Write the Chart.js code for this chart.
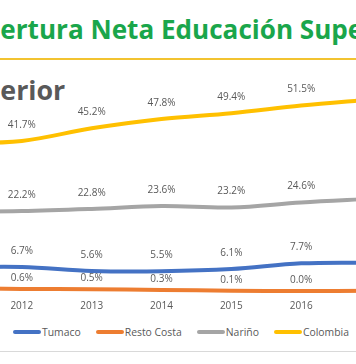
<!DOCTYPE html>
<html><head><meta charset="utf-8">
<script src="https://cdn.jsdelivr.net/npm/chart.js@4"></script>
<style>
html,body{margin:0;padding:0;background:#fff;}
body{width:356px;height:364px;overflow:hidden;position:relative;font-family:"Open Sans",sans-serif;}
#title{position:absolute;top:14px;left:0;white-space:nowrap;font-weight:bold;color:#1aa64b;font-size:26.1px;line-height:30px;}
#rule{position:absolute;left:0;width:356px;top:58px;height:2px;background:#f2c330;}
#sub{position:absolute;top:73px;left:0;white-space:nowrap;font-weight:bold;color:#595959;font-size:26.8px;line-height:34px;}
#wrap{position:absolute;left:-80px;top:60px;width:480px;height:255px;}
#legend{position:absolute;left:13px;top:325px;display:flex;align-items:center;font-size:10.4px;line-height:14px;color:#595959;white-space:nowrap;}
#legend .it{display:flex;align-items:center;margin-right:15px;}
#legend .ln{display:inline-block;width:28px;height:4px;border-radius:2px;margin-right:1px;}
#sep{position:absolute;left:0;top:351px;width:356px;height:1px;background:#d9d9d9;}
</style>
</head><body>
<div id="title"><span id="tpre">Cob</span>ertura Neta Educación Superior</div>
<div id="rule"></div>
<div id="sub"><span id="spre">Sup</span>erior</div>
<div id="wrap"><canvas id="c"></canvas></div>
<div id="legend"></div>
<div id="sep"></div>
<script>
const years = ['2011','2012','2013','2014','2015','2016','2017'];
const seriesNames = ['Tumaco','Resto Costa','Nariño','Colombia'];
const seriesColors = ['#4472C4','#ED7D31','#A5A5A5','#FFC000'];
const tumaco = [6.6, 6.7, 5.6, 5.5, 6.1, 7.7, 7.9];
const restoCosta = [0.8, 0.6, 0.5, 0.3, 0.1, 0.0, 0.1];
const narino = [22.0, 22.2, 22.8, 23.6, 23.2, 24.6, 25.6];
const colombia = [41.0, 41.7, 45.2, 47.8, 49.4, 51.5, 53.2];
const seriesValues = [tumaco, restoCosta, narino, colombia];
const labelOffsets = [16, 11, 16, 16];

document.getElementById('title').style.left = (-document.getElementById('tpre').offsetWidth) + 'px';
document.getElementById('sub').style.left = (-document.getElementById('spre').offsetWidth) + 'px';

const leg = document.getElementById('legend');
seriesNames.forEach((n,i)=>{
  const it = document.createElement('div'); it.className='it';
  const ln = document.createElement('span'); ln.className='ln'; ln.style.background = seriesColors[i];
  const tx = document.createElement('span'); tx.textContent = n;
  it.appendChild(ln); it.appendChild(tx); leg.appendChild(it);
});

const valueLabels = {
  id: 'valueLabels',
  afterDatasetsDraw(chart) {
    const ctx = chart.ctx;
    ctx.save();
    ctx.font = '10px "Open Sans"';
    ctx.fillStyle = '#595959';
    ctx.textAlign = 'center';
    ctx.textBaseline = 'middle';
    chart.data.datasets.forEach((ds, i) => {
      const meta = chart.getDatasetMeta(i);
      meta.data.forEach((pt, j) => {
        ctx.fillText(ds.data[j].toFixed(1) + '%', pt.x, pt.y - labelOffsets[i]);
      });
    });
    ctx.restore();
  }
};

new Chart(document.getElementById('c'), {
  type: 'line',
  data: {
    labels: years,
    datasets: seriesNames.map((n, i) => ({
      label: n,
      data: seriesValues[i],
      borderColor: seriesColors[i],
      backgroundColor: seriesColors[i],
      borderWidth: 4,
      pointRadius: 0,
      tension: 0.35,
      fill: false
    }))
  },
  options: {
    responsive: true,
    maintainAspectRatio: false,
    animation: false,
    layout: { padding: { left: 32, right: 29, top: 15, bottom: 0 } },
    plugins: { legend: { display: false }, tooltip: { enabled: false } },
    scales: {
      x: {
        type: 'category',
        offset: false,
        grid: { display: false, drawTicks: false },
        border: { display: false },
        ticks: { color: '#595959', font: { family: 'Open Sans', size: 10 }, padding: 3, maxRotation: 0, autoSkip: false }
      },
      y: { display: false, min: -1.65, max: 60 }
    }
  },
  plugins: [valueLabels]
});
</script>
</body></html>
